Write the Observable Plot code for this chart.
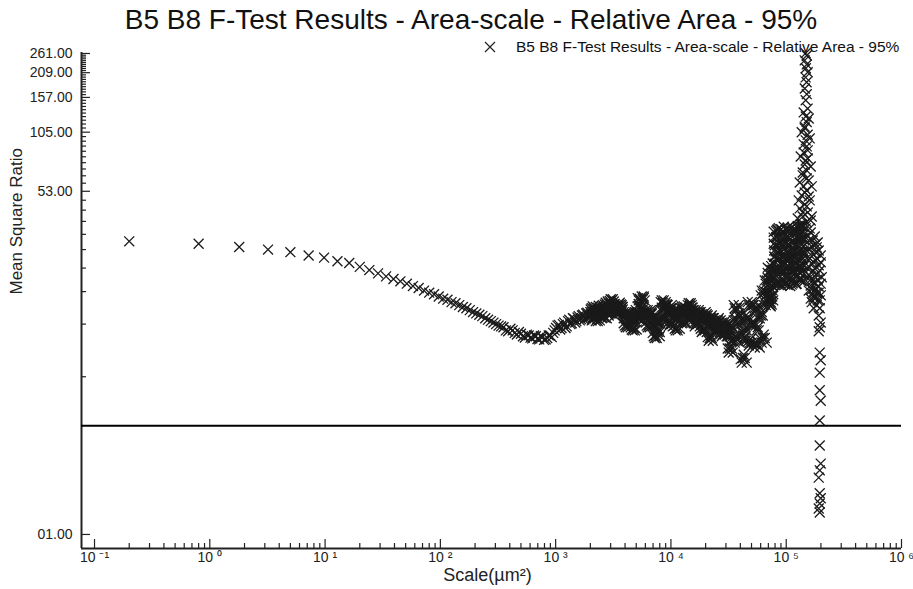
<!DOCTYPE html>
<html><head><meta charset="utf-8">
<script src="https://cdn.jsdelivr.net/npm/d3@7"></script>
<script src="https://cdn.jsdelivr.net/npm/@observablehq/plot@0.6"></script>
<style>
body{margin:0;background:#fff;font-family:"Liberation Sans",Arial,sans-serif;}
#wrap{position:relative;width:913px;height:589px;overflow:hidden;}
#title{height:40px;line-height:40px;font-size:28px;text-align:center;padding-left:29px;color:#111;white-space:nowrap;}
#legend{position:absolute;left:484px;top:38px;height:18px;display:flex;align-items:center;font-size:15.5px;color:#111;white-space:nowrap;}
#legend svg{margin-right:20px;}
</style></head><body>
<div id="wrap">
<div id="title">B5 B8 F-Test Results - Area-scale - Relative Area - 95%</div>
<div id="chart"></div>
<div id="legend"><svg width="12" height="12"><path d="M1,1L11,11M1,11L11,1" stroke="#222" stroke-width="1.2"/></svg><span>B5 B8 F-Test Results - Area-scale - Relative Area - 95%</span></div>
</div>
<script>
// ---- data (scale in µm², mean square ratio) ----
const smoothScale = [0.2, 0.8, 1.8, 3.2, 5, 7.2, 9.8, 12.8, 16.2, 20, 24.2, 28.8, 33.8, 39.2, 45, 51.2, 57.8, 64.8, 72.2, 80, 88.2, 96.8, 105.8, 115.2, 125, 135.2, 145.8, 156.8, 168.2, 180, 192.2, 204.8, 217.8, 231.2, 245, 259.2, 273.8, 288.8, 304.2, 320];
const smoothRatio = [29.7, 28.9, 27.8, 27.0, 26.2, 25.2, 24.6, 23.6, 23.1, 22.1, 21.3, 20.5, 19.8, 19.2, 18.7, 18.2, 17.7, 17.3, 16.8, 16.4, 16.1, 15.7, 15.3, 15.1, 14.7, 14.5, 14.2, 13.9, 13.7, 13.4, 13.1, 12.9, 12.7, 12.5, 12.2, 12.0, 11.8, 11.6, 11.4, 11.2];

const troughScale = [352.8, 387.2, 423.2, 460.8, 500, 540.8, 583.2, 627.2, 672.8, 720, 768.8, 819.2, 871.2, 924.8, 980, 1036.8, 1095.2, 1155.2, 1216.8, 1280, 1344.8, 1411.2, 1479.2, 1548.8, 1620, 1692.8, 1767.2, 1843.2, 1920.8, 2000];
const troughRatio = [11.0, 10.5, 10.6, 10.1, 10.2, 9.77, 10.0, 9.66, 9.9, 9.55, 9.8, 9.55, 10.0, 9.8, 10.6, 11.2, 10.7, 11.4, 10.9, 11.8, 11.4, 12.2, 11.6, 12.3, 11.9, 12.6, 12.0, 12.9, 12.3, 13.1];
const troughScaleB = [336.2, 369.8, 405, 441.8, 480.2, 520.2, 561.8, 605, 649.8, 696.2, 744.2, 793.8, 845, 897.8, 952.2, 1008.2, 1065.8, 1125, 1185.8, 1248.2, 1312.2, 1377.8, 1445, 1513.8, 1584.2, 1656.2, 1729.8, 1805, 1881.8, 1960.2];
const troughRatioB = [11.1, 10.6, 10.8, 10.3, 10.4, 9.9, 10.1, 9.75, 10.0, 9.6, 9.9, 9.5, 9.7, 10.0, 10.3, 10.9, 11.3, 10.9, 11.6, 11.1, 12.0, 11.5, 12.1, 11.8, 12.5, 12.1, 12.7, 12.2, 13.0, 12.5];

const denseScale = [
2015, 2056, 2098, 2141, 2184, 2228, 2273, 2319, 2365, 2413,
2461, 2511, 2562, 2614, 2666, 2720, 2775,
2831, 2887, 2946, 3005, 3066, 3128, 3191, 3255,
3321, 3388, 3456, 3526, 3597, 3669, 3743, 3819,
3896, 3974, 4054, 4136, 4220, 4305, 4392,
4480, 4571, 4663, 4757, 4853, 4951, 5050,
5152, 5256, 5362, 5470, 5581, 5693, 5808, 5925,
6045, 6166, 6291, 6417, 6547, 6679, 6814,
6951, 7091, 7234, 7380, 7529, 7681, 7836, 7994,
8155, 8320, 8487, 8659, 8833, 9011, 9196,
9381, 9570, 9763, 9961, 10162, 10366,
10576, 10789, 11006, 11228, 11455, 11686, 11922,
12162, 12408, 12658, 12913, 13173, 13439, 13711,
13987, 14269, 14557, 14849, 15149, 15455,
15766, 16084, 16409, 16740, 17077, 17421, 17773,
18133, 18499, 18871, 19252, 19641, 20037, 20441,
20854, 21277, 21706, 22142, 22589, 23046,
23511, 23985, 24469, 24963, 25467, 25979, 26504,
27040, 27585, 28141, 28709, 29286, 29877, 30479,
31094, 31718, 32358, 33011, 33677, 34356,
35049, 35759, 36481, 37215, 37966, 38734, 39516,
40310, 41124, 41950, 42797, 43662, 44543, 45440,
46357, 47295, 48250, 49219, 50212, 51228,
52262, 53313, 54389, 55489, 56609, 57747, 58912,
60104, 61317, 62549, 63812, 65102, 66416, 67752];
const denseRatio = [
13.5, 11.9, 12.8, 13.7, 12.2, 13.1, 13.4, 11.8, 12.6, 13.8,
13.7, 12.2, 12.9, 14.0, 12.3, 13.2, 14.3,
14.8, 12.6, 13.7, 14.5, 12.9, 15.2, 13.4, 14.0,
14.2, 12.8, 13.5, 13.8, 12.9, 14.3, 13.2, 13.5,
13.1, 11.2, 12.2, 12.8, 11.0, 11.9, 12.5,
12.6, 10.7, 11.6, 12.2, 10.6, 11.8, 13.1,
15.4, 12.2, 14.0, 15.0, 11.9, 13.5, 15.7, 12.6,
13.4, 11.2, 12.5, 13.1, 11.0, 12.2, 12.8,
12.2, 9.9, 11.1, 11.9, 9.7, 10.8, 11.6, 10.4,
14.7, 11.9, 13.4, 15.0, 12.2, 13.7, 14.3,
14.2, 11.1, 12.8, 13.7, 11.4, 12.5,
13.4, 10.8, 12.2, 13.1, 10.6, 11.9, 12.8,
13.7, 11.5, 12.8, 14.0, 11.6, 13.1, 13.4,
14.2, 11.9, 13.1, 14.5, 12.2, 13.4,
13.4, 11.1, 12.5, 13.1, 11.4, 12.2, 12.8,
13.1, 10.4, 11.9, 12.8, 10.6, 11.6, 12.2,
12.6, 9.4, 11.1, 12.2, 9.7, 10.8,
12.2, 10.4, 11.4, 11.9, 10.6, 11.6, 11.1,
11.9, 9.9, 10.8, 11.6, 10.1, 11.1, 10.6,
11.2, 8.2, 9.9, 10.8, 8.6, 9.4,
14.2, 9.2, 11.9, 13.7, 9.7, 11.2, 12.6,
12.6, 7.3, 10.0, 11.9, 7.7, 9.4, 10.6,
14.7, 8.9, 11.9, 14.2, 9.2, 11.2,
14.2, 8.7, 11.2, 13.7, 9.0, 10.6, 12.2,
15.9, 9.2, 12.6, 16.8, 9.7, 14.2, 18.9];
const denseRatioB = [
12.4, 13.1, 14.0, 12.5, 13.3, 13.9, 12.0, 12.9, 14.1, 13.2,
12.5, 13.3, 14.2, 12.6, 13.5, 14.6, 13.0,
13.0, 13.9, 14.9, 13.2, 15.0, 13.7, 14.3, 14.4,
13.1, 13.9, 14.1, 13.2, 14.6, 13.5, 13.9, 13.9,
11.5, 12.5, 13.0, 11.3, 12.2, 12.9, 12.8,
11.0, 11.9, 12.6, 10.9, 12.1, 13.4, 12.3,
12.7, 14.4, 15.3, 12.3, 13.9, 15.2, 13.0, 15.0,
11.6, 12.8, 13.4, 11.3, 12.6, 13.1, 13.0,
10.3, 11.4, 12.2, 10.0, 11.1, 11.9, 10.7, 11.8,
12.3, 13.8, 14.6, 12.6, 14.0, 14.0, 14.3,
11.5, 13.2, 13.3, 11.8, 12.9, 13.8,
11.2, 12.6, 13.4, 10.9, 12.3, 13.1, 13.0,
11.9, 13.2, 13.6, 12.0, 13.4, 13.8, 13.3,
12.3, 13.5, 14.1, 12.6, 13.8, 13.8,
11.5, 12.9, 13.4, 11.7, 12.6, 13.1, 13.0,
10.8, 12.3, 12.4, 10.9, 12.0, 12.6, 12.8,
9.8, 11.5, 11.9, 10.0, 11.2, 12.2,
10.7, 11.7, 11.6, 10.9, 11.9, 11.5, 11.8,
10.2, 11.1, 11.3, 10.4, 11.4, 10.9, 11.5,
8.6, 10.2, 10.5, 8.9, 9.8, 10.9,
9.6, 12.3, 13.3, 10.1, 11.6, 12.9, 13.8,
7.6, 10.4, 11.5, 8.0, 9.8, 11.0, 12.2,
9.3, 12.3, 13.8, 9.6, 11.6, 14.2,
9.1, 11.6, 13.3, 9.4, 11.0, 12.6, 13.8,
9.6, 13.1, 16.2, 10.1, 14.7, 18.2, 16.5];
const denseRatioC = [
12.8, 13.7, 12.2, 13.1, 13.4, 11.8, 12.6, 13.8, 13.5, 11.9,
12.9, 14.0, 12.3, 13.2, 14.3, 13.7, 12.2,
13.7, 14.5, 12.9, 15.2, 13.4, 14.0, 14.8, 12.6,
13.5, 13.8, 12.9, 14.3, 13.2, 13.5, 14.2, 12.8,
12.2, 12.8, 11.0, 11.9, 12.5, 13.1, 11.2,
11.6, 12.2, 10.6, 11.8, 13.1, 12.6, 10.7,
14.0, 15.0, 11.9, 13.5, 15.7, 12.6, 15.4, 12.2,
12.5, 13.1, 11.0, 12.2, 12.8, 13.4, 11.2,
11.1, 11.9, 9.7, 10.8, 11.6, 10.4, 12.2, 9.9,
13.4, 15.0, 12.2, 13.7, 14.3, 14.7, 11.9,
12.8, 13.7, 11.4, 12.5, 14.2, 11.1,
12.2, 13.1, 10.6, 11.9, 12.8, 13.4, 10.8,
12.8, 14.0, 11.6, 13.1, 13.4, 13.7, 11.5,
13.1, 14.5, 12.2, 13.4, 14.2, 11.9,
12.5, 13.1, 11.4, 12.2, 12.8, 13.4, 11.1,
11.9, 12.8, 10.6, 11.6, 12.2, 13.1, 10.4,
11.1, 12.2, 9.7, 10.8, 12.6, 9.4,
11.4, 11.9, 10.6, 11.6, 11.1, 12.2, 10.4,
10.8, 11.6, 10.1, 11.1, 10.6, 11.9, 9.9,
9.9, 10.8, 8.6, 9.4, 11.2, 8.2,
11.9, 13.7, 9.7, 11.2, 12.6, 14.2, 9.2,
10.0, 11.9, 7.7, 9.4, 10.6, 12.6, 7.3,
11.9, 14.2, 9.2, 11.2, 14.7, 8.9,
11.2, 13.7, 9.0, 10.6, 12.2, 14.2, 8.7,
12.6, 16.8, 9.7, 14.2, 18.9, 15.9, 9.2];

const peakScale = [
69116, 69810, 70499, 71200, 71923, 72650, 73380, 74110, 74861, 75610, 76367, 77130,
77910, 78690, 79485, 80280, 81090, 81900, 82719, 83550, 84390, 85230, 86099, 86960,
87840, 88720, 89602, 90500, 91413, 92330, 93260, 94190, 95143, 96090, 97051, 98020,
99012, 100000, 101000, 102010, 103040, 104070, 105123, 106170, 107246, 108320, 109400, 110490,
111610, 112730, 113868, 115000, 116168, 117330, 118500, 119690, 120890, 122100, 123340, 124570,
125830, 127090, 128360, 129640, 130950, 132260, 133600, 134940, 136300, 137660, 139040, 140430, 141850, 143270];
const peakRatio = [
21.9, 17.0, 19.1, 15.4, 17.4, 14.1, 15.2, 22.3, 14.3, 19.6, 23.0, 17.5,
33.2, 24.9, 28.4, 21.0, 24.2, 18.3, 21.5, 34.0, 18.1, 29.2, 34.6, 24.3,
28.9, 21.4, 25.0, 17.8, 20.8, 33.0, 18.4, 28.1, 35.2, 24.8, 29.5, 20.9,
24.4, 18.2, 21.3, 34.4, 17.9, 28.8, 33.9, 25.3, 28.3, 21.6, 24.7, 18.6,
21.0, 35.0, 18.3, 29.6, 34.3, 24.5, 28.6, 20.7, 25.1, 18.1, 21.8, 34.8,
35.5, 26.3, 30.4, 22.0, 26.4, 19.2, 22.5, 36.3, 18.7, 31.0, 35.0, 25.8, 30.9, 22.4];
const peakRatioB = [
19.5, 15.5, 17.0, 14.4, 15.6, 21.4, 14.0, 19.0, 21.2, 16.9, 19.8, 15.0,
28.9, 21.1, 24.8, 17.9, 21.4, 33.5, 18.2, 28.4, 34.1, 24.2, 29.1, 21.5,
24.3, 18.3, 20.9, 34.2, 17.8, 29.0, 33.4, 24.9, 28.5, 20.8, 25.2, 18.0,
21.6, 33.8, 18.5, 28.2, 34.9, 24.6, 28.8, 21.3, 24.5, 17.7, 21.1, 34.5,
18.0, 29.3, 33.6, 25.0, 29.0, 21.2, 24.7, 18.4, 21.5, 33.3, 18.2, 28.6,
30.9, 22.0, 26.0, 19.1, 22.4, 35.2, 19.0, 30.4, 36.0, 26.3, 30.5, 22.6, 26.4, 18.7];
const peakRatioC = [
20.6, 16.2, 18.1, 14.8, 16.3, 20.2, 14.7, 20.5, 18.0, 15.7, 21.4, 16.1,
31.0, 26.7, 22.9, 19.5, 26.5, 31.2, 19.8, 31.3, 26.3, 22.6, 31.8, 26.8,
26.5, 19.7, 22.8, 31.5, 19.3, 26.4, 31.0, 22.7, 31.4, 22.6, 27.3, 19.5,
22.9, 31.1, 19.9, 26.1, 31.7, 22.3, 31.2, 23.0, 26.7, 19.4, 22.8, 31.8,
19.6, 27.0, 31.3, 22.6, 26.8, 23.1, 26.5, 19.9, 23.2, 31.0, 19.7, 26.1,
33.2, 24.1, 28.3, 20.7, 24.3, 32.9, 20.6, 28.5, 33.5, 24.2, 33.0, 24.4, 28.2, 20.4];

const spikeScale = [147600, 150600, 144700, 150900, 147900, 153640, 147300, 150300, 144900, 150700, 147600, 153400, 147800, 150600, 144700, 153640, 147600, 150800, 141850, 153640, 144700, 150600, 139040, 156750, 141850, 150600, 136300, 159900, 144700, 130950, 153640, 139040, 163130, 133600, 147600];
const spikeRatio = [262, 255, 241, 230, 220, 210, 198, 187, 174, 163, 152, 138, 126, 118, 110, 102, 95.5, 89.1, 83.1, 77.5, 72.3, 67.5, 63.7, 60.1, 56.1, 53.5, 50.5, 47.7, 45.5, 43.5, 41.5, 39.6, 37.8, 36.1, 34.5];
const spikeScaleB = [141850, 156750, 144700, 136300, 159900, 141850, 153640, 133600, 147600, 163130, 139040, 150600, 130950, 166400, 144700, 156750, 128360, 150600, 139040, 166400, 125830, 150600, 136300, 159900];
const spikeRatioB = [132, 123, 112, 105, 97.7, 91.2, 85.1, 79.3, 75.7, 70.6, 65.9, 61.5, 58.7, 56.1, 52.3, 49.9, 47.7, 44.5, 41.5, 39.6, 38.7, 37.0, 35.3, 34.5];

const lobeScale = [163130, 176700, 156750, 187600, 166400, 150600, 180300, 199200, 159900, 173200, 191400, 153640, 169800, 183900, 203200, 159900, 176700, 191400, 166400, 183900, 199200, 173200, 187600, 163130, 195300, 180300, 156750, 169800, 183900];
const lobeRatio = [32.9, 31.4, 30.0, 29.3, 28.0, 26.7, 26.1, 25.2, 24.4, 23.3, 22.5, 21.7, 21.0, 20.3, 19.6, 18.9, 18.2, 17.6, 17.0, 16.4, 15.9, 15.5, 15.0, 17.8, 21.2, 23.8, 20.0, 16.1, 27.7];
const lobeScaleB = [153640, 169800, 180300, 159900, 191400, 173200, 150600, 183900, 166400, 199200, 156750, 176700, 187600, 163130, 199200, 169800, 180300, 156750, 191400, 173200, 163130, 180300, 195300, 166400, 183900, 173200];
const lobeRatioB = [31.4, 30.0, 28.7, 27.1, 26.7, 25.5, 24.4, 24.4, 23.0, 23.3, 22.2, 21.7, 19.1, 19.8, 18.2, 18.9, 17.2, 16.8, 16.4, 16.6, 15.3, 15.5, 15.0, 14.7, 14.2, 13.7];

const tailScale = [195300, 191400, 199200, 195300, 191400, 195300, 199200, 195300, 195300, 199200, 195300, 195300, 199200, 195300, 191400, 195300, 199200, 195300, 191400, 195300];
const tailRatio = [13.7, 12.6, 11.6, 11.0, 10.5, 8.2, 7.5, 6.5, 5.3, 4.7, 3.74, 2.80, 2.27, 2.10, 1.93, 1.61, 1.52, 1.43, 1.35, 1.29];

const fCritical = 3.52;

// ---- axes ----
const xDomain = [0.0771, 1e6];
const yDomain = [0.85, 264];
const xMajorTicks = [0.1, 1, 10, 100, 1000, 10000, 100000, 1000000];
const xTickLabels = ["10 \u207B\u00B9", "10 \u2070", "10 \u00B9", "10 \u00B2", "10 \u00B3", "10 \u2074", "10 \u2075", "10 \u2076"];
const yMajorTicks = [1, 53, 105, 157, 209, 261];
const yTickLabels = ["01.00", "53.00", "105.00", "157.00", "209.00", "261.00"];
const yMinorStep = 5.2;

const xMinorTicks = [];
for (const m of xMajorTicks.slice(0, -1)) for (let j = 2; j <= 9; j++) xMinorTicks.push(m * j);
const yMinorTicks = d3.range(1, 50).map(i => 1 + i * yMinorStep).filter((d, i) => (i + 1) % 10 !== 0);
const xLabelMap = new Map(xMajorTicks.map((d, i) => [d, xTickLabels[i]]));
const yLabelMap = new Map(yMajorTicks.map((d, i) => [d, yTickLabels[i]]));

const groups = [
  [smoothScale, smoothRatio], [troughScale, troughRatio], [troughScaleB, troughRatioB],
  [denseScale, denseRatio], [denseScale, denseRatioB], [denseScale, denseRatioC],
  [peakScale, peakRatio], [peakScale, peakRatioB], [peakScale, peakRatioC],
  [spikeScale, spikeRatio], [spikeScaleB, spikeRatioB],
  [lobeScale, lobeRatio], [lobeScaleB, lobeRatioB],
  [tailScale, tailRatio]];
const points = [];
for (const [s, r] of groups) {
  const n = Math.min(s.length, r.length);
  for (let i = 0; i < n; i++) points.push({scale: s[i], ratio: r[i]});
}

const ink = "#222";
const chart = Plot.plot({
  width: 913, height: 549,
  marginLeft: 81, marginRight: 12, marginTop: 12, marginBottom: 41,
  style: {fontFamily: '"Liberation Sans", Arial, sans-serif', background: "white", color: ink, overflow: "visible"},
  x: {type: "log", domain: xDomain},
  y: {type: "log", domain: yDomain},
  marks: [
    Plot.axisY(yMinorTicks, {tickSize: -5, tickFormat: () => "", label: null, strokeWidth: 1.2}),
    Plot.axisY(yMajorTicks, {tickSize: -9, tickPadding: 18, tickFormat: d => yLabelMap.get(d), fontSize: 14, label: null, strokeWidth: 1.2}),
    Plot.axisX(xMinorTicks, {tickSize: -5, tickFormat: () => "", label: null, strokeWidth: 1.2}),
    Plot.axisX(xMajorTicks, {tickSize: -9, tickPadding: 13, tickFormat: d => xLabelMap.get(d), fontSize: 14, label: null, strokeWidth: 1.2}),
    Plot.ruleX([xDomain[0]], {stroke: ink, strokeWidth: 2}),
    Plot.ruleY([yDomain[0]], {stroke: ink, strokeWidth: 2}),
    Plot.ruleY([fCritical], {stroke: "#000", strokeWidth: 2}),
    Plot.dot(points, {x: "scale", y: "ratio", symbol: "times", r: 4.6, stroke: "#1a1a1a", strokeWidth: 1.3}),
    Plot.text(["Mean Square Ratio"], {frameAnchor: "left", rotate: -90, dx: -65, dy: -6, fontSize: 17, fill: ink}),
    Plot.text(["Scale(µm²)"], {frameAnchor: "bottom", dx: -4, dy: 32, fontSize: 18, fill: ink})
  ]
});
document.getElementById("chart").appendChild(chart);
</script>
</body></html>
